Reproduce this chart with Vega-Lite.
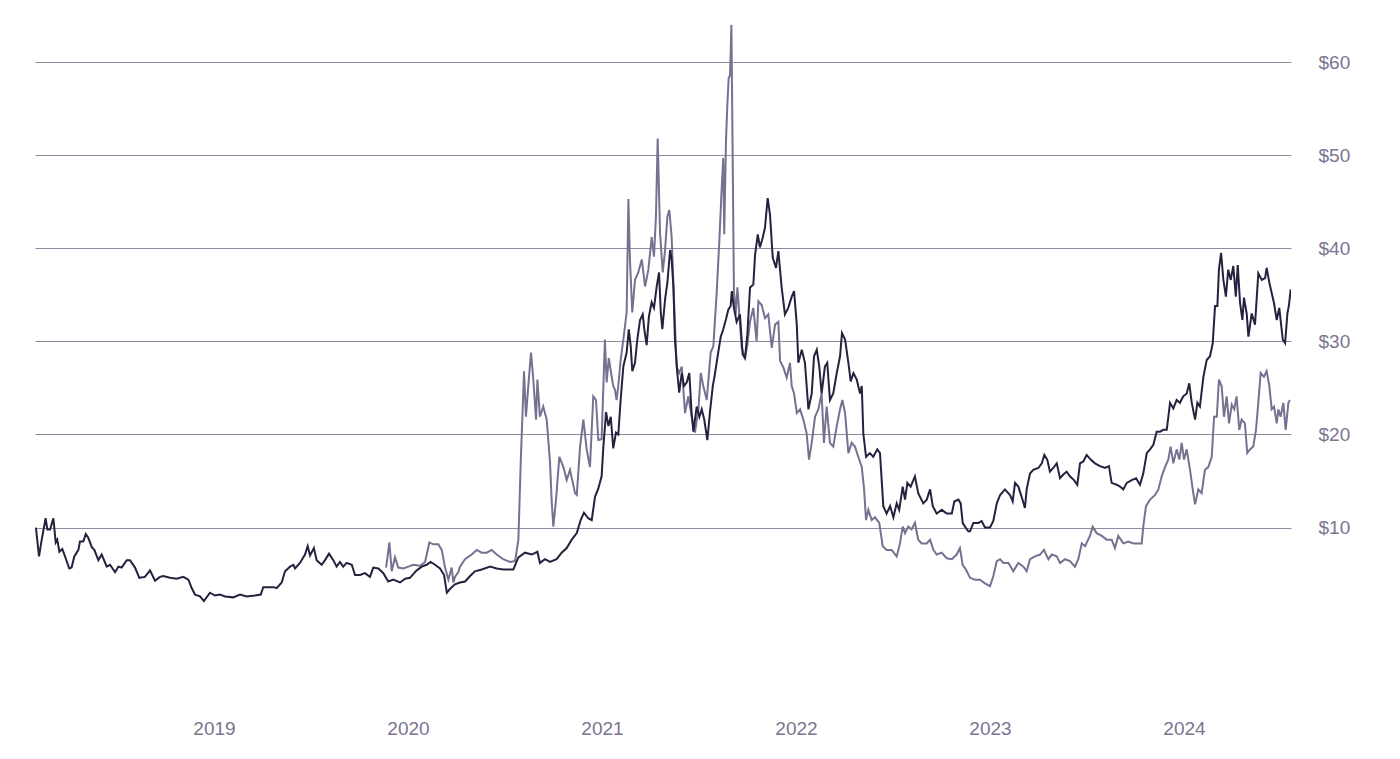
{
  "$schema": "https://vega.github.io/schema/vega-lite/v6.json",
  "width": 1256,
  "height": 700,
  "padding": {"left": 35, "top": 10, "right": 109, "bottom": 49},
  "autosize": {"type": "none"},
  "background": "#ffffff",
  "config": {
    "view": {"stroke": null},
    "font": "Liberation Sans",
    "axis": {"labelFont": "Liberation Sans", "labelColor": "#7a7490", "labelFontSize": 19, "domain": false}
  },
  "datasets": {
    "gray": [
      {"t":2019.887,"v":5.7},{"t":2019.904,"v":8.4},{"t":2019.916,"v":5.3},{"t":2019.933,"v":6.8},{"t":2019.950,"v":5.7},{"t":2019.976,"v":5.6},{"t":2020.002,"v":5.8},{"t":2020.027,"v":6.0},{"t":2020.062,"v":5.9},{"t":2020.088,"v":6.3},{"t":2020.110,"v":8.4},{"t":2020.130,"v":8.2},{"t":2020.156,"v":8.2},{"t":2020.174,"v":7.6},{"t":2020.191,"v":5.7},{"t":2020.208,"v":4.4},{"t":2020.225,"v":5.7},{"t":2020.234,"v":4.1},{"t":2020.242,"v":4.7},{"t":2020.259,"v":5.2},{"t":2020.268,"v":5.8},{"t":2020.294,"v":6.6},{"t":2020.328,"v":7.1},{"t":2020.354,"v":7.6},{"t":2020.380,"v":7.3},{"t":2020.406,"v":7.3},{"t":2020.431,"v":7.6},{"t":2020.457,"v":7.1},{"t":2020.491,"v":6.6},{"t":2020.526,"v":6.3},{"t":2020.552,"v":6.4},{"t":2020.569,"v":8.7},{"t":2020.581,"v":17.0},{"t":2020.591,"v":22.7},{"t":2020.598,"v":26.8},{"t":2020.608,"v":21.9},{"t":2020.620,"v":25.2},{"t":2020.634,"v":28.8},{"t":2020.646,"v":25.9},{"t":2020.660,"v":21.6},{"t":2020.667,"v":25.9},{"t":2020.680,"v":21.9},{"t":2020.697,"v":23.0},{"t":2020.715,"v":21.6},{"t":2020.732,"v":17.0},{"t":2020.741,"v":12.7},{"t":2020.749,"v":10.1},{"t":2020.763,"v":13.0},{"t":2020.780,"v":17.6},{"t":2020.801,"v":16.5},{"t":2020.818,"v":15.1},{"t":2020.835,"v":16.2},{"t":2020.861,"v":13.7},{"t":2020.870,"v":13.5},{"t":2020.887,"v":18.7},{"t":2020.904,"v":21.6},{"t":2020.921,"v":18.4},{"t":2020.938,"v":16.5},{"t":2020.955,"v":24.1},{"t":2020.969,"v":23.7},{"t":2020.981,"v":19.4},{"t":2020.998,"v":19.5},{"t":2021.015,"v":30.2},{"t":2021.024,"v":25.6},{"t":2021.035,"v":28.2},{"t":2021.050,"v":26.2},{"t":2021.058,"v":25.2},{"t":2021.067,"v":24.8},{"t":2021.075,"v":23.7},{"t":2021.084,"v":25.2},{"t":2021.096,"v":28.0},{"t":2021.110,"v":30.2},{"t":2021.127,"v":33.1},{"t":2021.136,"v":45.3},{"t":2021.144,"v":38.8},{"t":2021.156,"v":33.1},{"t":2021.170,"v":36.6},{"t":2021.187,"v":37.4},{"t":2021.205,"v":38.8},{"t":2021.222,"v":35.9},{"t":2021.239,"v":37.7},{"t":2021.256,"v":41.2},{"t":2021.268,"v":39.1},{"t":2021.278,"v":43.4},{"t":2021.287,"v":51.8},{"t":2021.299,"v":41.7},{"t":2021.313,"v":37.4},{"t":2021.325,"v":39.8},{"t":2021.337,"v":43.4},{"t":2021.347,"v":44.1},{"t":2021.359,"v":41.2},{"t":2021.371,"v":34.5},{"t":2021.385,"v":27.3},{"t":2021.398,"v":26.6},{"t":2021.411,"v":27.3},{"t":2021.428,"v":22.3},{"t":2021.445,"v":24.1},{"t":2021.462,"v":21.9},{"t":2021.479,"v":20.2},{"t":2021.497,"v":22.7},{"t":2021.509,"v":26.6},{"t":2021.522,"v":25.2},{"t":2021.540,"v":23.7},{"t":2021.560,"v":28.8},{"t":2021.574,"v":29.5},{"t":2021.591,"v":35.2},{"t":2021.605,"v":40.9},{"t":2021.617,"v":46.5},{"t":2021.625,"v":49.7},{"t":2021.630,"v":41.5},{"t":2021.639,"v":51.5},{"t":2021.646,"v":55.4},{"t":2021.653,"v":58.3},{"t":2021.660,"v":58.6},{"t":2021.667,"v":64.0},{"t":2021.674,"v":48.7},{"t":2021.680,"v":35.4},{"t":2021.689,"v":32.9},{"t":2021.698,"v":35.8},{"t":2021.708,"v":32.9},{"t":2021.720,"v":29.3},{"t":2021.737,"v":28.2},{"t":2021.749,"v":29.6},{"t":2021.763,"v":32.1},{"t":2021.780,"v":33.6},{"t":2021.797,"v":30.0},{"t":2021.806,"v":34.3},{"t":2021.823,"v":33.9},{"t":2021.840,"v":32.5},{"t":2021.857,"v":32.9},{"t":2021.875,"v":29.3},{"t":2021.892,"v":31.8},{"t":2021.909,"v":32.1},{"t":2021.918,"v":27.9},{"t":2021.935,"v":27.2},{"t":2021.952,"v":26.1},{"t":2021.969,"v":27.7},{"t":2021.978,"v":25.2},{"t":2021.990,"v":24.4},{"t":2022.004,"v":22.3},{"t":2022.021,"v":22.7},{"t":2022.038,"v":21.6},{"t":2022.055,"v":20.1},{"t":2022.067,"v":17.3},{"t":2022.081,"v":19.1},{"t":2022.098,"v":21.9},{"t":2022.115,"v":22.7},{"t":2022.132,"v":24.4},{"t":2022.144,"v":19.1},{"t":2022.158,"v":23.0},{"t":2022.175,"v":19.1},{"t":2022.192,"v":18.7},{"t":2022.210,"v":20.9},{"t":2022.227,"v":22.7},{"t":2022.239,"v":23.7},{"t":2022.253,"v":22.3},{"t":2022.270,"v":18.0},{"t":2022.287,"v":19.1},{"t":2022.304,"v":18.7},{"t":2022.321,"v":17.6},{"t":2022.339,"v":16.5},{"t":2022.351,"v":14.1},{"t":2022.361,"v":10.8},{"t":2022.373,"v":11.9},{"t":2022.390,"v":10.8},{"t":2022.407,"v":11.1},{"t":2022.429,"v":10.5},{"t":2022.447,"v":8.0},{"t":2022.467,"v":7.6},{"t":2022.493,"v":7.6},{"t":2022.519,"v":6.9},{"t":2022.536,"v":8.3},{"t":2022.550,"v":10.1},{"t":2022.562,"v":9.4},{"t":2022.579,"v":10.1},{"t":2022.596,"v":9.8},{"t":2022.613,"v":10.5},{"t":2022.630,"v":8.7},{"t":2022.648,"v":8.3},{"t":2022.674,"v":8.3},{"t":2022.691,"v":8.7},{"t":2022.708,"v":7.6},{"t":2022.725,"v":7.1},{"t":2022.751,"v":7.3},{"t":2022.777,"v":6.7},{"t":2022.803,"v":6.6},{"t":2022.828,"v":7.1},{"t":2022.845,"v":7.8},{"t":2022.859,"v":6.0},{"t":2022.876,"v":5.5},{"t":2022.897,"v":4.6},{"t":2022.923,"v":4.4},{"t":2022.948,"v":4.4},{"t":2022.974,"v":4.0},{"t":2023.000,"v":3.7},{"t":2023.017,"v":4.8},{"t":2023.035,"v":6.4},{"t":2023.052,"v":6.6},{"t":2023.069,"v":6.2},{"t":2023.095,"v":6.2},{"t":2023.120,"v":5.3},{"t":2023.146,"v":6.2},{"t":2023.172,"v":5.8},{"t":2023.189,"v":5.3},{"t":2023.206,"v":6.6},{"t":2023.232,"v":6.9},{"t":2023.258,"v":7.1},{"t":2023.278,"v":7.6},{"t":2023.301,"v":6.6},{"t":2023.318,"v":7.1},{"t":2023.344,"v":6.9},{"t":2023.361,"v":6.2},{"t":2023.387,"v":6.6},{"t":2023.412,"v":6.4},{"t":2023.438,"v":5.8},{"t":2023.455,"v":6.6},{"t":2023.473,"v":8.3},{"t":2023.490,"v":8.0},{"t":2023.515,"v":9.1},{"t":2023.529,"v":10.1},{"t":2023.550,"v":9.4},{"t":2023.576,"v":9.1},{"t":2023.601,"v":8.7},{"t":2023.627,"v":8.7},{"t":2023.644,"v":7.8},{"t":2023.661,"v":9.1},{"t":2023.687,"v":8.3},{"t":2023.713,"v":8.5},{"t":2023.739,"v":8.3},{"t":2023.782,"v":8.3},{"t":2023.790,"v":10.1},{"t":2023.804,"v":12.3},{"t":2023.825,"v":13.0},{"t":2023.851,"v":13.5},{"t":2023.868,"v":14.1},{"t":2023.885,"v":15.5},{"t":2023.902,"v":16.5},{"t":2023.919,"v":17.3},{"t":2023.931,"v":18.7},{"t":2023.945,"v":16.9},{"t":2023.962,"v":18.4},{"t":2023.976,"v":17.3},{"t":2023.988,"v":19.1},{"t":2024.000,"v":17.3},{"t":2024.014,"v":18.4},{"t":2024.031,"v":16.2},{"t":2024.045,"v":14.1},{"t":2024.057,"v":12.5},{"t":2024.074,"v":14.1},{"t":2024.091,"v":13.7},{"t":2024.108,"v":16.2},{"t":2024.125,"v":16.5},{"t":2024.143,"v":17.6},{"t":2024.155,"v":21.9},{"t":2024.169,"v":21.9},{"t":2024.180,"v":25.9},{"t":2024.194,"v":25.2},{"t":2024.206,"v":21.9},{"t":2024.220,"v":24.1},{"t":2024.232,"v":21.2},{"t":2024.246,"v":23.2},{"t":2024.259,"v":22.7},{"t":2024.271,"v":24.1},{"t":2024.285,"v":20.5},{"t":2024.297,"v":21.6},{"t":2024.314,"v":21.2},{"t":2024.326,"v":18.0},{"t":2024.340,"v":18.4},{"t":2024.357,"v":18.7},{"t":2024.371,"v":20.5},{"t":2024.383,"v":23.4},{"t":2024.395,"v":26.6},{"t":2024.412,"v":26.2},{"t":2024.426,"v":26.8},{"t":2024.440,"v":25.2},{"t":2024.452,"v":22.7},{"t":2024.464,"v":23.0},{"t":2024.478,"v":21.2},{"t":2024.486,"v":22.7},{"t":2024.498,"v":21.9},{"t":2024.512,"v":23.4},{"t":2024.524,"v":20.5},{"t":2024.538,"v":23.4},{"t":2024.546,"v":23.7}
    ],
    "dark": [
      {"t":2018.082,"v":10.0},{"t":2018.098,"v":6.9},{"t":2018.112,"v":8.7},{"t":2018.132,"v":11.0},{"t":2018.141,"v":9.8},{"t":2018.155,"v":9.8},{"t":2018.172,"v":11.0},{"t":2018.184,"v":8.4},{"t":2018.192,"v":8.7},{"t":2018.203,"v":7.4},{"t":2018.218,"v":7.7},{"t":2018.232,"v":6.9},{"t":2018.254,"v":5.6},{"t":2018.266,"v":5.7},{"t":2018.280,"v":6.9},{"t":2018.301,"v":7.6},{"t":2018.309,"v":8.5},{"t":2018.326,"v":8.5},{"t":2018.339,"v":9.3},{"t":2018.352,"v":8.9},{"t":2018.370,"v":7.9},{"t":2018.383,"v":7.6},{"t":2018.404,"v":6.5},{"t":2018.421,"v":7.1},{"t":2018.447,"v":5.8},{"t":2018.464,"v":6.0},{"t":2018.490,"v":5.2},{"t":2018.507,"v":5.8},{"t":2018.524,"v":5.7},{"t":2018.550,"v":6.5},{"t":2018.567,"v":6.5},{"t":2018.593,"v":5.7},{"t":2018.615,"v":4.6},{"t":2018.644,"v":4.7},{"t":2018.670,"v":5.4},{"t":2018.696,"v":4.3},{"t":2018.722,"v":4.7},{"t":2018.739,"v":4.8},{"t":2018.773,"v":4.6},{"t":2018.808,"v":4.5},{"t":2018.842,"v":4.7},{"t":2018.868,"v":4.4},{"t":2018.885,"v":3.5},{"t":2018.902,"v":2.8},{"t":2018.928,"v":2.6},{"t":2018.948,"v":2.1},{"t":2018.979,"v":3.0},{"t":2019.005,"v":2.7},{"t":2019.031,"v":2.8},{"t":2019.057,"v":2.6},{"t":2019.099,"v":2.5},{"t":2019.134,"v":2.8},{"t":2019.169,"v":2.6},{"t":2019.211,"v":2.7},{"t":2019.241,"v":2.8},{"t":2019.254,"v":3.6},{"t":2019.280,"v":3.6},{"t":2019.306,"v":3.6},{"t":2019.323,"v":3.5},{"t":2019.349,"v":4.1},{"t":2019.366,"v":5.3},{"t":2019.392,"v":5.8},{"t":2019.409,"v":6.0},{"t":2019.418,"v":5.6},{"t":2019.443,"v":6.2},{"t":2019.469,"v":7.1},{"t":2019.483,"v":8.0},{"t":2019.495,"v":7.0},{"t":2019.515,"v":7.8},{"t":2019.529,"v":6.5},{"t":2019.555,"v":6.0},{"t":2019.572,"v":6.5},{"t":2019.593,"v":7.2},{"t":2019.615,"v":6.5},{"t":2019.632,"v":5.8},{"t":2019.649,"v":6.3},{"t":2019.666,"v":5.8},{"t":2019.684,"v":6.2},{"t":2019.710,"v":6.0},{"t":2019.727,"v":4.9},{"t":2019.753,"v":4.9},{"t":2019.778,"v":5.1},{"t":2019.804,"v":4.7},{"t":2019.821,"v":5.7},{"t":2019.847,"v":5.6},{"t":2019.873,"v":5.1},{"t":2019.898,"v":4.2},{"t":2019.924,"v":4.4},{"t":2019.959,"v":4.1},{"t":2019.985,"v":4.5},{"t":2020.010,"v":4.6},{"t":2020.027,"v":5.0},{"t":2020.045,"v":5.4},{"t":2020.071,"v":5.8},{"t":2020.096,"v":6.0},{"t":2020.117,"v":6.3},{"t":2020.139,"v":6.0},{"t":2020.165,"v":5.6},{"t":2020.186,"v":4.9},{"t":2020.200,"v":3.0},{"t":2020.216,"v":3.4},{"t":2020.242,"v":3.9},{"t":2020.268,"v":4.1},{"t":2020.294,"v":4.2},{"t":2020.320,"v":4.8},{"t":2020.345,"v":5.3},{"t":2020.380,"v":5.5},{"t":2020.423,"v":5.8},{"t":2020.457,"v":5.6},{"t":2020.491,"v":5.5},{"t":2020.543,"v":5.5},{"t":2020.569,"v":6.8},{"t":2020.603,"v":7.3},{"t":2020.638,"v":7.1},{"t":2020.667,"v":7.4},{"t":2020.680,"v":6.2},{"t":2020.706,"v":6.6},{"t":2020.732,"v":6.3},{"t":2020.766,"v":6.6},{"t":2020.792,"v":7.3},{"t":2020.818,"v":7.8},{"t":2020.844,"v":8.7},{"t":2020.870,"v":9.4},{"t":2020.890,"v":10.8},{"t":2020.907,"v":11.6},{"t":2020.929,"v":11.0},{"t":2020.947,"v":10.8},{"t":2020.964,"v":13.3},{"t":2020.981,"v":14.2},{"t":2020.998,"v":15.5},{"t":2021.007,"v":18.7},{"t":2021.021,"v":22.4},{"t":2021.033,"v":20.9},{"t":2021.045,"v":21.9},{"t":2021.058,"v":18.5},{"t":2021.072,"v":20.2},{"t":2021.084,"v":20.0},{"t":2021.096,"v":23.7},{"t":2021.110,"v":27.3},{"t":2021.127,"v":28.8},{"t":2021.138,"v":31.3},{"t":2021.148,"v":29.5},{"t":2021.156,"v":26.8},{"t":2021.170,"v":27.7},{"t":2021.182,"v":30.2},{"t":2021.196,"v":32.3},{"t":2021.210,"v":32.9},{"t":2021.218,"v":31.3},{"t":2021.230,"v":29.6},{"t":2021.242,"v":32.7},{"t":2021.256,"v":34.2},{"t":2021.268,"v":33.6},{"t":2021.282,"v":35.9},{"t":2021.294,"v":37.4},{"t":2021.303,"v":33.1},{"t":2021.311,"v":31.3},{"t":2021.325,"v":34.5},{"t":2021.337,"v":36.3},{"t":2021.351,"v":39.8},{"t":2021.359,"v":38.8},{"t":2021.368,"v":35.9},{"t":2021.376,"v":30.2},{"t":2021.388,"v":26.6},{"t":2021.398,"v":24.5},{"t":2021.411,"v":26.6},{"t":2021.423,"v":25.2},{"t":2021.437,"v":25.6},{"t":2021.450,"v":26.6},{"t":2021.462,"v":22.3},{"t":2021.471,"v":20.3},{"t":2021.488,"v":23.0},{"t":2021.502,"v":21.9},{"t":2021.514,"v":22.7},{"t":2021.527,"v":21.6},{"t":2021.543,"v":19.4},{"t":2021.557,"v":22.5},{"t":2021.571,"v":25.2},{"t":2021.582,"v":26.5},{"t":2021.599,"v":28.8},{"t":2021.612,"v":30.5},{"t":2021.625,"v":31.3},{"t":2021.638,"v":32.3},{"t":2021.651,"v":33.4},{"t":2021.663,"v":33.8},{"t":2021.669,"v":35.4},{"t":2021.680,"v":33.6},{"t":2021.694,"v":32.1},{"t":2021.711,"v":32.9},{"t":2021.725,"v":28.6},{"t":2021.737,"v":28.2},{"t":2021.749,"v":30.7},{"t":2021.763,"v":35.8},{"t":2021.780,"v":36.1},{"t":2021.789,"v":39.3},{"t":2021.803,"v":41.5},{"t":2021.814,"v":40.1},{"t":2021.828,"v":41.1},{"t":2021.840,"v":42.2},{"t":2021.854,"v":45.4},{"t":2021.866,"v":43.6},{"t":2021.880,"v":39.0},{"t":2021.897,"v":37.9},{"t":2021.909,"v":39.7},{"t":2021.926,"v":35.8},{"t":2021.943,"v":32.9},{"t":2021.960,"v":33.6},{"t":2021.978,"v":34.8},{"t":2021.990,"v":35.4},{"t":2022.004,"v":31.8},{"t":2022.012,"v":27.7},{"t":2022.030,"v":29.1},{"t":2022.046,"v":27.7},{"t":2022.064,"v":22.7},{"t":2022.081,"v":24.4},{"t":2022.093,"v":28.4},{"t":2022.107,"v":29.1},{"t":2022.120,"v":27.3},{"t":2022.132,"v":24.4},{"t":2022.149,"v":27.3},{"t":2022.161,"v":27.7},{"t":2022.175,"v":23.7},{"t":2022.192,"v":24.4},{"t":2022.210,"v":26.6},{"t":2022.227,"v":28.4},{"t":2022.237,"v":30.9},{"t":2022.253,"v":30.2},{"t":2022.270,"v":27.7},{"t":2022.282,"v":25.7},{"t":2022.296,"v":26.6},{"t":2022.313,"v":25.9},{"t":2022.330,"v":24.4},{"t":2022.339,"v":25.2},{"t":2022.347,"v":20.1},{"t":2022.361,"v":17.6},{"t":2022.381,"v":18.0},{"t":2022.398,"v":17.6},{"t":2022.419,"v":18.4},{"t":2022.433,"v":18.0},{"t":2022.450,"v":12.3},{"t":2022.467,"v":11.5},{"t":2022.485,"v":12.3},{"t":2022.502,"v":11.1},{"t":2022.519,"v":12.6},{"t":2022.532,"v":11.9},{"t":2022.550,"v":14.4},{"t":2022.562,"v":13.0},{"t":2022.574,"v":14.8},{"t":2022.591,"v":14.4},{"t":2022.613,"v":15.5},{"t":2022.630,"v":13.7},{"t":2022.656,"v":12.6},{"t":2022.674,"v":13.0},{"t":2022.691,"v":14.1},{"t":2022.705,"v":12.3},{"t":2022.725,"v":11.5},{"t":2022.751,"v":11.9},{"t":2022.777,"v":11.5},{"t":2022.803,"v":11.5},{"t":2022.816,"v":12.8},{"t":2022.837,"v":13.0},{"t":2022.849,"v":12.6},{"t":2022.859,"v":10.5},{"t":2022.871,"v":10.1},{"t":2022.888,"v":9.6},{"t":2022.897,"v":9.6},{"t":2022.914,"v":10.5},{"t":2022.940,"v":10.5},{"t":2022.957,"v":10.7},{"t":2022.974,"v":10.0},{"t":2023.000,"v":10.0},{"t":2023.017,"v":10.7},{"t":2023.035,"v":12.6},{"t":2023.052,"v":13.5},{"t":2023.077,"v":14.1},{"t":2023.103,"v":13.5},{"t":2023.117,"v":12.8},{"t":2023.129,"v":14.8},{"t":2023.146,"v":14.4},{"t":2023.163,"v":13.3},{"t":2023.180,"v":12.1},{"t":2023.189,"v":14.1},{"t":2023.206,"v":15.8},{"t":2023.223,"v":16.2},{"t":2023.249,"v":16.4},{"t":2023.267,"v":16.9},{"t":2023.280,"v":17.8},{"t":2023.295,"v":17.3},{"t":2023.309,"v":16.0},{"t":2023.326,"v":16.4},{"t":2023.344,"v":16.9},{"t":2023.361,"v":15.3},{"t":2023.378,"v":15.7},{"t":2023.395,"v":16.0},{"t":2023.412,"v":15.5},{"t":2023.433,"v":15.1},{"t":2023.450,"v":14.6},{"t":2023.464,"v":16.9},{"t":2023.481,"v":17.1},{"t":2023.498,"v":17.8},{"t":2023.519,"v":17.3},{"t":2023.541,"v":16.9},{"t":2023.567,"v":16.6},{"t":2023.593,"v":16.4},{"t":2023.613,"v":16.6},{"t":2023.627,"v":14.8},{"t":2023.653,"v":14.6},{"t":2023.670,"v":14.4},{"t":2023.687,"v":14.1},{"t":2023.705,"v":14.8},{"t":2023.730,"v":15.1},{"t":2023.753,"v":15.3},{"t":2023.773,"v":14.6},{"t":2023.790,"v":15.8},{"t":2023.808,"v":18.0},{"t":2023.825,"v":18.4},{"t":2023.842,"v":18.9},{"t":2023.859,"v":20.3},{"t":2023.876,"v":20.3},{"t":2023.894,"v":20.5},{"t":2023.911,"v":20.5},{"t":2023.928,"v":23.4},{"t":2023.945,"v":22.8},{"t":2023.962,"v":23.7},{"t":2023.979,"v":23.4},{"t":2023.996,"v":24.1},{"t":2024.014,"v":24.4},{"t":2024.027,"v":25.5},{"t":2024.040,"v":23.4},{"t":2024.057,"v":21.6},{"t":2024.069,"v":23.4},{"t":2024.082,"v":23.0},{"t":2024.100,"v":26.2},{"t":2024.117,"v":28.0},{"t":2024.134,"v":28.4},{"t":2024.148,"v":29.8},{"t":2024.160,"v":33.8},{"t":2024.172,"v":33.8},{"t":2024.180,"v":37.7},{"t":2024.191,"v":39.5},{"t":2024.203,"v":36.6},{"t":2024.216,"v":34.8},{"t":2024.228,"v":37.7},{"t":2024.241,"v":36.6},{"t":2024.254,"v":38.1},{"t":2024.267,"v":34.8},{"t":2024.277,"v":38.2},{"t":2024.289,"v":34.1},{"t":2024.301,"v":32.3},{"t":2024.309,"v":34.7},{"t":2024.323,"v":33.0},{"t":2024.332,"v":30.5},{"t":2024.349,"v":33.0},{"t":2024.366,"v":31.8},{"t":2024.383,"v":37.3},{"t":2024.401,"v":36.6},{"t":2024.418,"v":36.8},{"t":2024.426,"v":37.9},{"t":2024.440,"v":36.3},{"t":2024.452,"v":35.2},{"t":2024.464,"v":34.1},{"t":2024.478,"v":32.3},{"t":2024.491,"v":33.6},{"t":2024.509,"v":30.2},{"t":2024.521,"v":29.8},{"t":2024.533,"v":33.0},{"t":2024.541,"v":33.9},{"t":2024.550,"v":35.6}
    ]
  },
  "encoding": {
    "x": {
      "field": "t", "type": "quantitative",
      "scale": {"domain": [2018.0773, 2024.5515], "nice": false, "zero": false},
      "axis": {"title": null, "values": [2019, 2020, 2021, 2022, 2023, 2024], "format": "d", "grid": false, "ticks": true, "tickSize": 9, "tickOpacity": 0, "labelPadding": 0, "labelFlush": false}
    },
    "y": {
      "field": "v", "type": "quantitative",
      "scale": {"domain": [-9.6, 65.6], "nice": false, "zero": false},
      "axis": {"title": null, "orient": "right", "offset": 27, "values": [10, 20, 30, 40, 50, 60], "labelExpr": "'$' + datum.value", "grid": true, "gridColor": "#8e8aa0", "gridWidth": 1, "ticks": false, "labelPadding": 0, "labelAlign": "left", "labelBaseline": "middle"}
    }
  },
  "layer": [
    {"data": {"name": "gray"}, "mark": {"type": "line", "color": "#787090", "strokeWidth": 2, "clip": true}},
    {"data": {"name": "dark"}, "mark": {"type": "line", "color": "#28203f", "strokeWidth": 2, "clip": true}}
  ]
}
